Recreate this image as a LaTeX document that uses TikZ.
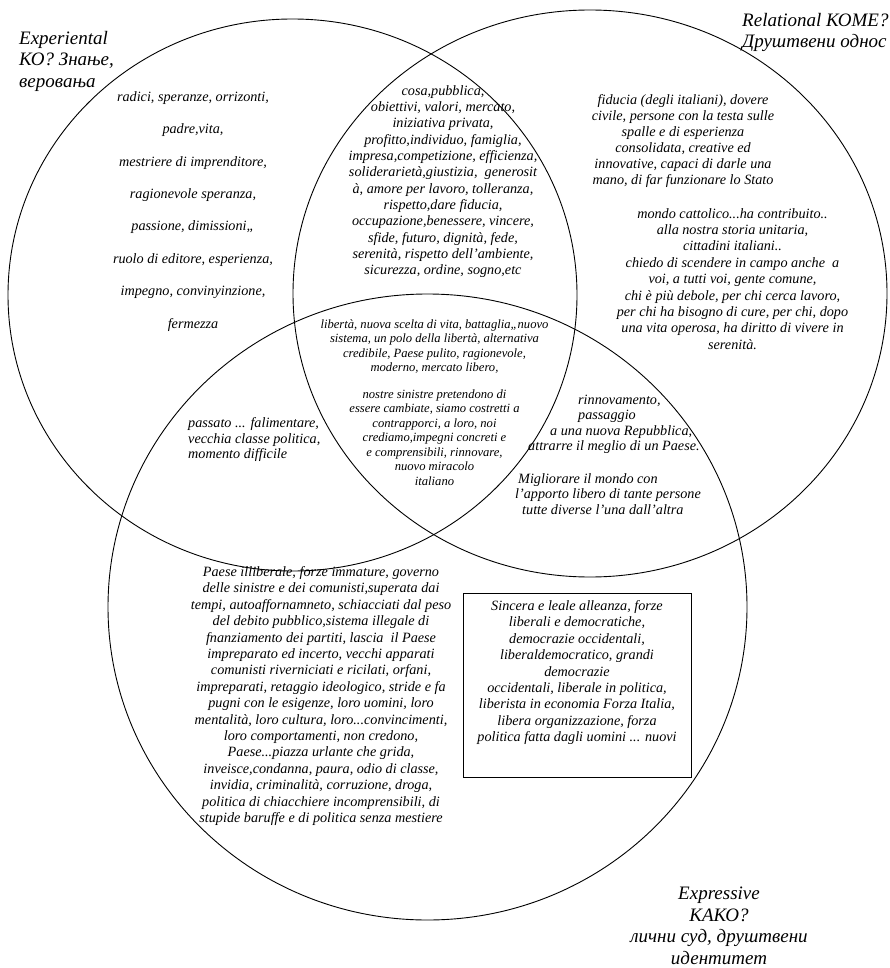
\documentclass[tikz,border=0pt]{standalone}
\usepackage{fontspec}
\setmainfont{Liberation Serif}
\usetikzlibrary{shapes.geometric}
\tikzset{
  oval/.style={draw, ellipse, line width=0.9pt, inner sep=0pt, outer sep=0pt},
  words/.style={align=center, inner sep=0pt, font=\fontsize{14.2}{#1}\selectfont\itshape},
  smallwords/.style={align=center, inner sep=0pt, font=\fontsize{12.6}{14.5}\selectfont\itshape},
  heading/.style={inner sep=0pt, font=\fontsize{19}{21.5}\selectfont\itshape},
  framebox/.style={draw, line width=0.9pt, inner sep=0pt},
}

\begin{document}
\begin{tikzpicture}[x=1pt, y=-1pt]
  \useasboundingbox (0,0) rectangle (890,968);
  \node[oval, minimum width=569pt, minimum height=552pt] (experiental) at (292.5,295) {};
  \node[oval, minimum width=594pt, minimum height=567pt] (relational) at (590,293.5) {};
  \node[oval, minimum width=639pt, minimum height=626pt] (expressive) at (427.5,607) {};

  \node[heading, anchor=north west, align=left] (knowlabel) at (19,31) {Experiental\\КО? Знање,\\веровања};
  \node[heading, anchor=north west, align=left] (relatelabel) at (742,13) {Relational КОМЕ?\\Друштвени однос};
  \node[heading, anchor=north, align=center] (expresslabel) at (719,887) {Expressive\\КАКО?\\лични суд, друштвени\\идентитет};

  \node[words=32.4, anchor=north] (kolist) at (193,91.3) {radici, speranze, orrizonti,\\padre,vita,\\mestriere di imprenditore,\\ragionevole speranza,\\passione, dimissioni,,\\ruolo di editore, esperienza,\\impegno, convinyinzione,\\fermezza};
  \node[words=16.3, anchor=north] (sharedvalues) at (443,85.3) {cosa,pubblica,\\obiettivi, valori, mercato,\\iniziativa privata,\\profitto,individuo, famiglia,\\impresa,competizione, efficienza,\\soliderarietà,giustizia,\ \ generosit\\à, amore per lavoro, tolleranza,\\rispetto,dare fiducia,\\occupazione,benessere, vincere,\\sfide, futuro, dignità, fede,\\serenità, rispetto dell’ambiente,\\sicurezza, ordine, sogno,etc};
  \node[words=16.1, anchor=north] (trust) at (683,94.3) {fiducia (degli italiani), dovere\\civile, persone con la testa sulle\\spalle e di esperienza\\consolidata, creative ed\\innovative, capaci di darle una\\mano, di far funzionare lo Stato};
  \node[words=16.4, anchor=north] (appeal) at (732.5,208) {mondo cattolico...ha contribuito..\\alla nostra storia unitaria,\\cittadini italiani..\\chiedo di scendere in campo anche\ \ a\\voi, a tutti voi, gente comune,\\chi è più debole, per chi cerca lavoro,\\per chi ha bisogno di cure, per chi, dopo\\una vita operosa, ha diritto di vivere in\\serenità.};
  \node[smallwords, anchor=north] (core) at (434.5,319.4) {libertà, nuova scelta di vita, battaglia,,nuovo\\sistema, un polo della libertà, alternativa\\credibile, Paese pulito, ragionevole,\\moderno, mercato libero,\\[12pt]nostre sinistre pretendono di\\essere cambiate, siamo costretti a\\contrapporci, a loro, noi\\crediamo,impegni concreti e\\e comprensibili, rinnovare,\\nuovo miracolo\\italiano};
  \node[words=15.5, anchor=north west, align=left] (pastlens) at (188,417.3) {passato ... falimentare,\\vecchia classe politica,\\momento difficile};
  \node[words=15.5, anchor=north west, align=left] (renewal) at (515,394.6) {\hspace*{63pt}rinnovamento,\\\hspace*{63pt}passaggio\\\hspace*{35pt}a una nuova Repubblica,\\\hspace*{13pt}attrarre il meglio di un Paese.\\[17pt]\hspace*{3pt}Migliorare il mondo con\\l’apporto libero di tante persone\\\hspace*{7pt}tutte diverse l’una dall’altra};
  \node[words=16.4, anchor=north] (critique) at (321,566.3) {Paese illiberale, forze immature, governo\\delle sinistre e dei comunisti,superata dai\\tempi, autoaffornamneto, schiacciati dal peso\\del debito pubblico,sistema illegale di\\fnanziamento dei partiti, lascia\ \ il Paese\\impreparato ed incerto, vecchi apparati\\comunisti riverniciati e ricilati, orfani,\\impreparati, retaggio ideologico, stride e fa\\pugni con le esigenze, loro uomini, loro\\mentalità, loro cultura, loro...convincimenti,\\loro comportamenti, non credono,\\Paese...piazza urlante che grida,\\inveisce,condanna, paura, odio di classe,\\invidia, criminalità, corruzione, droga,\\politica di chiacchiere incomprensibili, di\\stupide baruffe e di politica senza mestiere};

  \node[framebox, minimum width=228pt, minimum height=184pt, anchor=north west] (alliance) at (463,593) {};
  \node[words=16.4, anchor=north] (alliancetext) at (577,600.2) {Sincera e leale alleanza, forze\\liberali e democratiche,\\democrazie occidentali,\\liberaldemocratico, grandi\\democrazie\\occidentali, liberale in politica,\\liberista in economia Forza Italia,\\libera organizzazione, forza\\politica fatta dagli uomini ... nuovi};
\end{tikzpicture}
\end{document}
